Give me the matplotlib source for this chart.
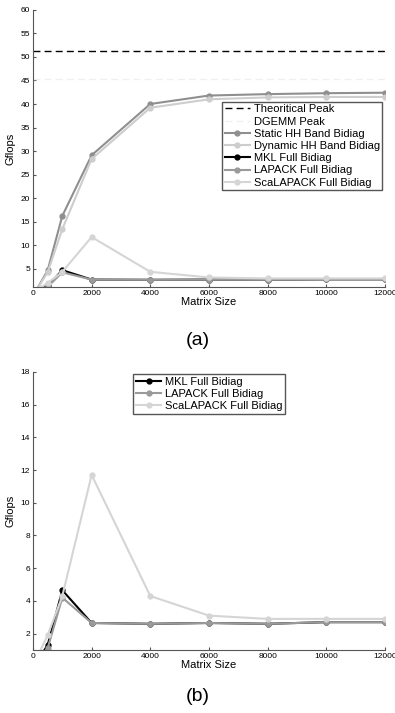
import matplotlib
matplotlib.use('Agg')
import matplotlib.pyplot as plt

# data
sizes = [100, 500, 1000, 2000, 4000, 6000, 8000, 10000, 12000]
static_hh = [0.25, 4.6, 16.2, 29.1, 40.0, 41.8, 42.1, 42.3, 42.4]
dynamic_hh = [0.2, 4.2, 13.4, 28.3, 39.2, 41.0, 41.4, 41.5, 41.5]
mkl = [0.2, 1.3, 4.65, 2.65, 2.6, 2.65, 2.6, 2.7, 2.7]
lapack = [0.3, 1.1, 4.2, 2.65, 2.6, 2.65, 2.6, 2.7, 2.7]
scalapack = [0.4, 1.9, 4.3, 11.7, 4.3, 3.1, 2.9, 2.9, 2.9]
theoretical_peak = 51.2
dgemm_peak = 45.3

plt.rcParams['font.family'] = ['Liberation Sans', 'DejaVu Sans']

fig = plt.figure(figsize=(3.95, 7.13), dpi=100)
ax1 = fig.add_axes([0.0835, 0.597, 0.891, 0.389])
ax2 = fig.add_axes([0.0835, 0.0884, 0.891, 0.390])

ms = 3.5
leg_kw = dict(borderaxespad=0, fontsize=8, labelspacing=0.2, handlelength=2.3,
              handletextpad=0.3, fancybox=False, edgecolor='#555555',
              framealpha=1, borderpad=0.25)

ax1.plot([0, 12000], [theoretical_peak] * 2, color='black', linestyle=(0, (5, 3)), lw=1, label='Theoritical Peak')
ax1.plot([0, 12000], [dgemm_peak] * 2, color='#f0f0f0', linestyle=(0, (5, 3)), lw=1, label='DGEMM Peak')
ax1.plot(sizes, static_hh, color='#8f8f8f', marker='o', ms=ms, lw=1.5, label='Static HH Band Bidiag')
ax1.plot(sizes, dynamic_hh, color='#cdcdcd', marker='o', ms=ms, lw=1.5, label='Dynamic HH Band Bidiag')
ax1.plot(sizes, mkl, color='black', marker='o', ms=ms, lw=1.5, label='MKL Full Bidiag')
ax1.plot(sizes, lapack, color='#9a9a9a', marker='o', ms=ms, lw=1.5, label='LAPACK Full Bidiag')
ax1.plot(sizes, scalapack, color='#d5d5d5', marker='o', ms=ms, lw=1.5, label='ScaLAPACK Full Bidiag')
ax1.set_ylim(1, 60)
ax1.set_yticks(range(5, 61, 5))
ax1.legend(loc='upper right', bbox_to_anchor=(0.993, 0.67), **leg_kw)

ax2.plot(sizes, mkl, color='black', marker='o', ms=ms, lw=1.5, label='MKL Full Bidiag')
ax2.plot(sizes, lapack, color='#9a9a9a', marker='o', ms=ms, lw=1.5, label='LAPACK Full Bidiag')
ax2.plot(sizes, scalapack, color='#d5d5d5', marker='o', ms=ms, lw=1.5, label='ScaLAPACK Full Bidiag')
ax2.set_ylim(1, 18)
ax2.set_yticks(range(2, 19, 2))
ax2.legend(loc='upper center', bbox_to_anchor=(0.5, 0.993), **leg_kw)

for ax in (ax1, ax2):
    ax.set_xlim(0, 12000)
    ax.set_xticks(range(0, 12001, 2000))
    ax.spines['top'].set_visible(False)
    ax.spines['right'].set_visible(False)
    ax.spines['left'].set_color('#555555')
    ax.spines['bottom'].set_color('#555555')
    ax.tick_params(labelsize=6, length=2.5, direction='in', color='#555555', pad=2)
    ax.set_xlabel('Matrix Size', fontsize=8, labelpad=0)
    ax.set_ylabel('Gflops', fontsize=8, labelpad=4)

fig.text(0.5, 0.523, '(a)', ha='center', va='center', fontsize=14)
fig.text(0.5, 0.0225, '(b)', ha='center', va='center', fontsize=14)

fig.savefig('out.png', dpi=100)
